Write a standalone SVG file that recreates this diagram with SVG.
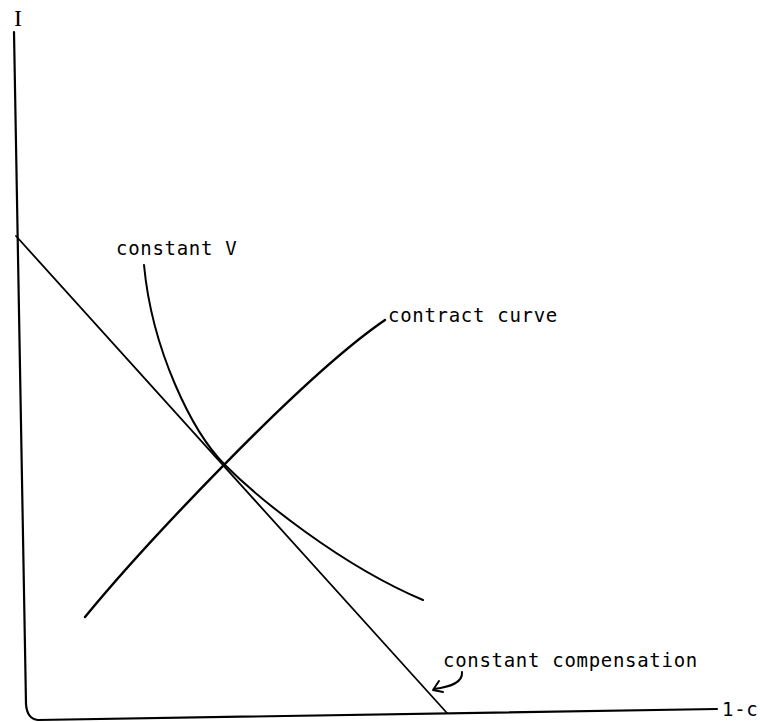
<svg xmlns="http://www.w3.org/2000/svg" width="760" height="722" viewBox="0 0 760 722">
  <style>
    .ink { fill: none; stroke: #000; stroke-linecap: round; stroke-linejoin: round; }
    .label { font-family: "DejaVu Sans Mono", "Liberation Mono", monospace; font-size: 19px; letter-spacing: 0.7px; fill: #000; }
  </style>
  <rect width="760" height="722" fill="#fff"/>

  <!-- axes -->
  <g id="axes">
    <path class="ink" stroke-width="2.2" d="M14,32 L26,704 Q27,719 38,720 L717,709"/>
    <text x="14" y="26" font-family="Liberation Serif, serif" font-size="24">I</text>
    <text class="label" x="722" y="716">1-c</text>
  </g>

  <!-- constant compensation (straight budget line) -->
  <g id="constant-compensation">
    <path class="ink" stroke-width="1.8" d="M16,236 L447,713"/>
    <text class="label" x="443" y="667">constant compensation</text>
  </g>

  <!-- constant V indifference curve -->
  <g id="constant-v">
    <path class="ink" stroke-width="2" d="M144,265 C152,350 192,432 225,465 C258,498 340,565 423,600"/>
    <text class="label" x="116" y="255">constant V</text>
  </g>

  <!-- contract curve -->
  <g id="contract-curve">
    <path class="ink" stroke-width="2.4" d="M85,617 C140,550 300,378 385,320"/>
    <text class="label" x="388" y="322">contract curve</text>
  </g>

  <!-- pointer from label to budget line -->
  <g id="connectors">
    <path class="ink" stroke-width="2" d="M462,672 C463,683 450,687 434,689"/>
    <path class="ink" stroke-width="2" d="M439,681 L433,690 L443,692"/>
  </g>
</svg>
